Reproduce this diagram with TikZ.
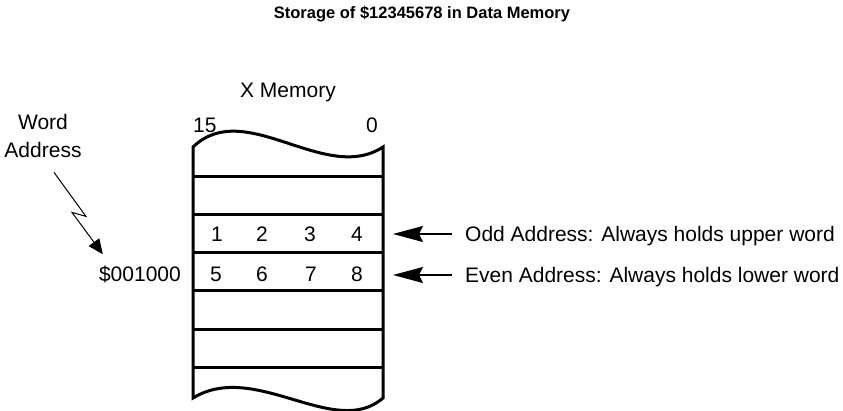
\documentclass[tikz,border=0pt]{standalone}
\usepackage{fontspec}
\setmainfont{Liberation Sans}
\usetikzlibrary{arrows.meta}

\begin{document}
\begin{tikzpicture}[x=1pt,y=-1pt]

\tikzstyle{lbl}=[inner sep=0pt, font=\fontsize{21}{25}\selectfont]
\tikzstyle{ttl}=[inner sep=0pt, font=\fontsize{16.5}{20}\selectfont\bfseries]
\tikzstyle{memline}=[line width=3pt, line join=miter]
\tikzstyle{arrow}=[-{Stealth[length=30pt,width=16pt,inset=4pt]}, line width=1.3pt, shorten <=13pt]
\tikzstyle{zigarrow}=[-{Triangle[length=15pt,width=13pt]}, line width=1pt]

\useasboundingbox (0,0) rectangle (843,411);

\node (title) [ttl, anchor=base] at (422,19) {Storage of \$12345678 in Data Memory};

% memory block
\node (xmem) [lbl, anchor=base] at (288,98) {X Memory};
\node (msb) [lbl, anchor=base west] at (193,133) {15};
\node (lsb) [lbl, anchor=base east] at (378,133) {0};
\draw[memline] (193,147) .. controls (245,97) and (325,185) .. (383,147)
  -- (383,398) .. controls (335,440) and (255,360) .. (193,398) -- cycle;
\foreach \y in {177,215,253,291,330,368}
  \draw[memline] (193,\y) -- (383,\y);

% contents
\foreach \d/\x in {1/217,2/262,3/310,4/357}
  \node (up\d) [lbl, anchor=base] at (\x,242) {\d};
\foreach \d/\x in {5/216,6/262,7/311,8/357}
  \node (lo\d) [lbl, anchor=base] at (\x,282) {\d};

% address
\node (word) [lbl, anchor=base] at (43,130) {Word};
\node (addr) [lbl, anchor=base] at (43,158) {Address};
\node (val) [lbl, anchor=base east] at (181,282) {\$001000};
\draw[zigarrow] (addr.south) ++(11,14) -- ++(32,44) -- ++(-14,-4)
  -- ([xshift=4pt,yshift=12pt]val.north west);

% notes
\node (odd) [lbl, anchor=base west] at (465,242) {Odd Address: Always holds upper word};
\node (even) [lbl, anchor=base west] at (465,283) {Even Address: Always holds lower word};
\coordinate (oddtip) at (393,234);
\coordinate (eventip) at (393,275);
\draw[arrow] (oddtip -| odd.west) -- (oddtip);
\draw[arrow] (eventip -| even.west) -- (eventip);
\end{tikzpicture}
\end{document}
